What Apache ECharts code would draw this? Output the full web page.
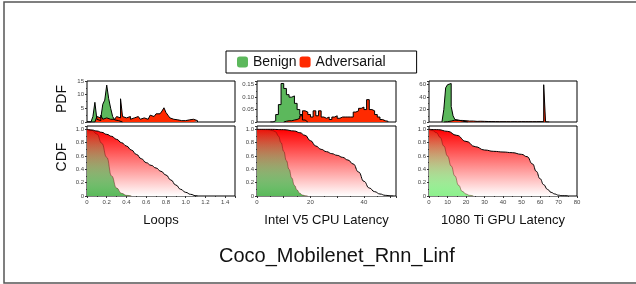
<!DOCTYPE html>
<html>
<head>
<meta charset="utf-8">
<script src="https://cdn.jsdelivr.net/npm/echarts@6/dist/echarts.min.js"></script>
<style>
  html, body { margin: 0; padding: 0; background: #fff; }
  #chartmain { width: 636px; height: 284px; }
</style>
</head>
<body>
<div id="chartmain"></div>
<script>
// ---- data ----
var seriesNames = ['Benign', 'Adversarial']
var panelNames = ['Loops', 'Intel V5 CPU Latency', '1080 Ti GPU Latency']

// PDF histograms: first bin start, bin width, bin heights
var loopsBenignStart = 0, loopsBinWidth = 0.02
var loopsBenignPdf = [0, 0, 0, 2, 7.2, 1, 0.5, 1.5, 6.5, 8, 13.5, 8.5, 5, 2, 0.8, 0.5, 0.2, 0]
var loopsAdvStart = 0
var loopsAdvPdf = [0, 0, 0, 0, 0.5, 2, 1.5, 2.5, 1, 1.5, 2, 1, 1.5, 1, 1.5, 2, 1.5, 8.5, 2, 1.5,
  1, 2, 1, 1.5, 1, 2, 1.5, 1, 1.5, 2, 1, 1.5, 2.5, 2, 2, 3, 3, 3.5, 4, 5.2,
  3.5, 2.5, 1.5, 1, 1.5, 0.8, 1, 0.5, 0.8, 0.5, 0.5, 0.8, 1, 1, 0.8, 0.5]

var intelBenignStart = 5, intelBinWidth = 1
var intelBenignPdf = [0, 0.005, 0.03, 0.07, 0.155, 0.135, 0.11, 0.1, 0.105, 0.075, 0.05, 0.03, 0.008, 0]
var intelAdvStart = 10
var intelAdvPdf = [0.003, 0.005, 0.005, 0.008, 0.01, 0.015, 0.025, 0.045, 0.04, 0.03, 0.02, 0.045, 0.025,
  0.045, 0.02, 0.015, 0.02, 0.01, 0.02, 0.025, 0.015, 0.02, 0.02, 0.02, 0.02, 0.02, 0.04, 0.045, 0.055,
  0.06, 0.05, 0.09, 0.05, 0.045, 0.03, 0.02, 0.01, 0.005, 0.003]

var gpuBenignStart = 7, gpuBinWidth = 1
var gpuBenignPdf = [1, 20, 55, 60, 62, 25, 10, 4, 3, 2, 1.5, 1, 0.5, 0]
var gpuAdvStart = 8
var gpuAdvPdf = [0.3, 0.5, 1, 1.5, 2.5, 3, 3, 2.5, 2, 2.5, 2, 2, 1.5, 1.5, 1, 1.5, 1, 1, 1, 1.2, 0.8, 1, 0.8,
  0.8, 0.6, 0.7, 0.5, 0.6, 0.8, 0.5, 0.6, 0.5, 0.7, 0.5, 0.6, 0.4, 0.5, 0.6, 0.5, 0.4, 0.5, 0.6, 0.4,
  0.5, 0.4, 0.5, 0.6, 0.5, 0.4, 0.5, 0.4, 0.6, 0.5, 0.5, 60, 0.3, 0]

// CDF curves (survival form, as drawn)
var loopsAdvX = [0, 0.05, 0.1, 0.15, 0.2, 0.25, 0.3, 0.35, 0.4, 0.45, 0.5, 0.55, 0.6, 0.65, 0.7, 0.75, 0.8, 0.85, 0.9, 0.95, 1.0, 1.05, 1.1, 1.12]
var loopsAdvCdf = [1, 0.99, 0.975, 0.955, 0.925, 0.895, 0.85, 0.8, 0.75, 0.69, 0.625, 0.56, 0.5, 0.46, 0.42, 0.37, 0.315, 0.24, 0.165, 0.1, 0.055, 0.025, 0.005, 0]
var loopsBenignX = [0, 0.05, 0.1, 0.15, 0.2, 0.25, 0.3, 0.35, 0.4, 0.45]
var loopsBenignCdf = [1, 0.985, 0.93, 0.79, 0.58, 0.3, 0.12, 0.04, 0.01, 0]

var intelAdvX = [0, 5, 10, 14, 16, 18, 20, 22, 24, 26, 28, 30, 32, 34, 36, 38, 40, 42, 44, 46, 48, 50, 51]
var intelAdvCdf = [1, 1, 0.995, 0.975, 0.95, 0.91, 0.83, 0.75, 0.7, 0.665, 0.635, 0.61, 0.58, 0.54, 0.48, 0.36, 0.22, 0.12, 0.065, 0.03, 0.01, 0.002, 0]
var intelBenignX = [0, 4, 6, 7, 8, 9, 10, 11, 12, 13, 14, 15, 16, 17, 18, 19]
var intelBenignCdf = [1, 0.995, 0.98, 0.96, 0.9, 0.8, 0.67, 0.53, 0.4, 0.27, 0.16, 0.09, 0.04, 0.015, 0.005, 0]

var gpuAdvX = [0, 5, 10, 15, 20, 25, 30, 35, 40, 45, 50, 53, 56, 58, 60, 62, 64, 66, 68, 70, 72, 75]
var gpuAdvCdf = [1, 0.995, 0.97, 0.91, 0.82, 0.74, 0.69, 0.67, 0.66, 0.65, 0.625, 0.59, 0.48, 0.37, 0.26, 0.17, 0.1, 0.055, 0.03, 0.012, 0.004, 0]
var gpuBenignX = [0, 2, 4, 6, 8, 10, 12, 14, 16, 18, 20, 22, 24]
var gpuBenignCdf = [1, 0.98, 0.95, 0.88, 0.75, 0.6, 0.45, 0.3, 0.16, 0.07, 0.03, 0.01, 0]

// ---- helpers ----
var font = "'Liberation Sans', Arial, Helvetica, sans-serif"
var green = '#5cb85c'
var red = '#ff2a00'

function histPoints(start, width, vals) {
  var pts = [[start, 0]]
  for (var i = 0; i < vals.length; i++) {
    pts.push([start + i * width, vals[i]])
  }
  pts.push([start + vals.length * width, 0])
  return pts
}
function curvePoints(xs, ys) {
  return xs.map(function (x, i) { return [x, ys[i]] })
}
function fmt(digits) {
  return function (v) { return v === 0 ? '0' : v.toFixed(digits) }
}

var tickLabel = { fontSize: 6, color: '#444', fontFamily: font, margin: 3 }

function pdfXAxis(grid, max) {
  return {
    type: 'value', gridIndex: grid, min: 0, max: max,
    axisLine: { show: false }, axisTick: { show: false },
    axisLabel: { show: false }, splitLine: { show: false },
  }
}
function cdfXAxis(grid, max, interval, name, labelFn, showMax) {
  return {
    type: 'value', gridIndex: grid, min: 0, max: max, interval: interval,
    name: name, nameLocation: 'middle', nameGap: 18,
    nameTextStyle: { fontSize: 13, color: '#111', fontFamily: font },
    axisLine: { show: false },
    axisTick: { show: true, length: 2, lineStyle: { color: '#333' } },
    minorTick: { show: true, splitNumber: 2, length: 1, lineStyle: { color: '#333' } },
    axisLabel: Object.assign({ formatter: labelFn, showMaxLabel: showMax }, tickLabel),
    splitLine: { show: false },
  }
}
function yAxis(grid, max, interval, digits, showMax) {
  return {
    type: 'value', gridIndex: grid, min: 0, max: max, interval: interval,
    axisLine: { show: false },
    axisTick: { show: true, length: 2, lineStyle: { color: '#333' } },
    minorTick: { show: true, splitNumber: 2, length: 1, lineStyle: { color: '#333' } },
    axisLabel: Object.assign({ formatter: fmt(digits), showMaxLabel: showMax }, tickLabel),
    splitLine: { show: false },
  }
}
function histSeries(name, idx, color, pts) {
  return {
    name: name, type: 'line', xAxisIndex: idx, yAxisIndex: idx,
    step: 'end', symbol: 'none', data: pts,
    itemStyle: { color: color },
    lineStyle: { color: '#000', width: 1 },
    areaStyle: { color: color, opacity: 1 },
  }
}
function cdfSeries(name, idx, pts, top, bottom, lineColor, lineWidth) {
  return {
    name: name, type: 'line', xAxisIndex: idx, yAxisIndex: idx,
    smooth: true, smoothMonotone: 'x', symbol: 'none', data: pts,
    lineStyle: { color: lineColor, width: lineWidth },
    areaStyle: {
      opacity: 1,
      color: new echarts.graphic.LinearGradient(0, 0, 0, 1, [
        { offset: 0, color: top },
        { offset: 1, color: bottom },
      ]),
    },
  }
}

var gridBox = { show: true, borderColor: '#000', borderWidth: 1, backgroundColor: 'transparent' }
var panelLeft = [87, 257, 429]
var panelWidth = [148, 139, 148]
var grids = []
for (var p = 0; p < 3; p++) {
  grids.push(Object.assign({ left: panelLeft[p], width: panelWidth[p], top: 81, height: 41 }, gridBox))
  grids.push(Object.assign({ left: panelLeft[p], width: panelWidth[p], top: 126, height: 70 }, gridBox))
}

var option = {
  animation: false,
  backgroundColor: '#fff',
  textStyle: { fontFamily: font },
  title: {
    text: 'Coco_Mobilenet_Rnn_Linf',
    left: 214, top: 241,
    textStyle: { fontSize: 20, fontWeight: 'normal', color: '#111', fontFamily: font },
  },
  legend: {
    left: 226, top: 51,
    itemWidth: 11, itemHeight: 11, itemGap: 3,
    icon: 'roundRect',
    borderColor: '#000', borderWidth: 1, borderRadius: 0,
    padding: [4, 31, 4, 11],
    textStyle: { fontSize: 14, color: '#111', fontFamily: font },
    data: [
      { name: seriesNames[0], itemStyle: { color: green } },
      { name: seriesNames[1], itemStyle: { color: red } },
    ],
  },
  graphic: [
    { type: 'polyline', shape: { points: [[700, 2], [4, 2], [4, 283], [700, 283]] },
      style: { fill: 'none', stroke: '#555', lineWidth: 1.5 }, silent: true },
    { type: 'text', x: 62, y: 99, rotation: Math.PI / 2,
      style: { text: 'PDF', fontSize: 14, fill: '#111', fontFamily: font, textAlign: 'center', textVerticalAlign: 'middle' } },
    { type: 'text', x: 62, y: 157, rotation: Math.PI / 2,
      style: { text: 'CDF', fontSize: 14, fill: '#111', fontFamily: font, textAlign: 'center', textVerticalAlign: 'middle' } },
  ],
  grid: grids,
  xAxis: [
    pdfXAxis(0, 1.5),
    cdfXAxis(1, 1.5, 0.2, panelNames[0], fmt(1), false),
    pdfXAxis(2, 52),
    cdfXAxis(3, 52, 10, panelNames[1], function (v) { return v % 20 === 0 ? String(v) : '' }, false),
    pdfXAxis(4, 80),
    cdfXAxis(5, 80, 10, panelNames[2], function (v) { return String(v) }, true),
  ],
  yAxis: [
    yAxis(0, 15, 5, 0, true),
    yAxis(1, 1.05, 0.2, 1, false),
    yAxis(2, 0.165, 0.05, 2, false),
    yAxis(3, 1.05, 0.2, 1, false),
    yAxis(4, 66, 20, 0, false),
    yAxis(5, 1.05, 0.2, 1, false),
  ],
  series: [
    histSeries(seriesNames[0], 0, green, histPoints(loopsBenignStart, loopsBinWidth, loopsBenignPdf)),
    histSeries(seriesNames[1], 0, red, histPoints(loopsAdvStart, loopsBinWidth, loopsAdvPdf)),
    cdfSeries(seriesNames[1], 1, curvePoints(loopsAdvX, loopsAdvCdf), '#ff0000', '#ffffff', '#000', 1),
    cdfSeries(seriesNames[0], 1, curvePoints(loopsBenignX, loopsBenignCdf), 'rgba(80,175,80,0.1)', 'rgba(90,185,90,1)', 'rgba(90,0,0,0.5)', 0.8),

    histSeries(seriesNames[0], 2, green, histPoints(intelBenignStart, intelBinWidth, intelBenignPdf)),
    histSeries(seriesNames[1], 2, red, histPoints(intelAdvStart, intelBinWidth, intelAdvPdf)),
    cdfSeries(seriesNames[1], 3, curvePoints(intelAdvX, intelAdvCdf), '#ff0000', '#ffffff', '#000', 1),
    cdfSeries(seriesNames[0], 3, curvePoints(intelBenignX, intelBenignCdf), 'rgba(80,175,80,0.1)', 'rgba(90,185,90,1)', 'rgba(90,0,0,0.5)', 0.8),

    histSeries(seriesNames[0], 4, green, histPoints(gpuBenignStart, gpuBinWidth, gpuBenignPdf)),
    histSeries(seriesNames[1], 4, red, histPoints(gpuAdvStart, gpuBinWidth, gpuAdvPdf)),
    cdfSeries(seriesNames[1], 5, curvePoints(gpuAdvX, gpuAdvCdf), '#ff0000', '#ffffff', '#000', 1),
    cdfSeries(seriesNames[0], 5, curvePoints(gpuBenignX, gpuBenignCdf), 'rgba(130,235,130,0.1)', 'rgba(140,240,140,1)', 'rgba(90,0,0,0.5)', 0.8),
  ],
}

//初始化echarts实例
var myChart = echarts.init(document.getElementById('chartmain'))
myChart.setOption(option)
</script>
</body>
</html>
